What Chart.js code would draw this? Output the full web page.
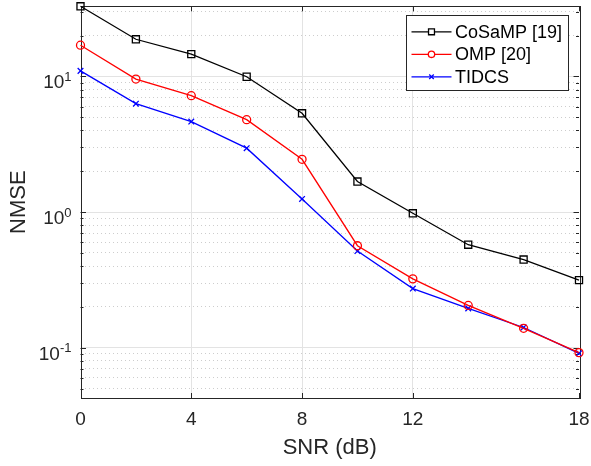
<!DOCTYPE html>
<html>
<head>
<meta charset="utf-8">
<script src="https://cdn.jsdelivr.net/npm/chart.js@4/dist/chart.umd.min.js"></script>
<style>
  html, body { margin: 0; padding: 0; background: #fff; }
  #wrap { width: 591px; height: 466px; }
</style>
</head>
<body>
<div id="wrap"><canvas id="c" width="591" height="466"></canvas></div>
<script>
// values
const snr    = [0, 2, 4, 6, 8, 10, 12, 14, 16, 18];
const cosamp = [32.9, 18.8, 14.6, 9.95, 5.35, 1.68, 0.98, 0.575, 0.447, 0.315];
const omp    = [17.0, 9.57, 7.21, 4.8, 2.45, 0.565, 0.322, 0.205, 0.139, 0.092];
const tidcs  = [11.0, 6.3, 4.65, 2.96, 1.25, 0.516, 0.273, 0.195, 0.141, 0.091];

const seriesNames = ['CoSaMP [19]', 'OMP [20]', 'TIDCS'];
const xTicks   = [0, 4, 8, 12, 18];
const yDecades = [0.1, 1, 10];
const yExps    = ['-1', '0', '1'];
const yMin = 0.0426, yMax = 32.9;

const FONT = '"Liberation Sans", Arial, Helvetica, sans-serif';
const AX = '#262626';

// major decade lines plus 2..9 minor lines
const yGrid = [];
for (const d of [0.01, 0.1, 1, 10]) {
  for (let m = 1; m <= 9; m++) {
    const v = +(m * d).toPrecision(3);
    if (v >= yMin && v <= yMax) yGrid.push({ value: v, major: m === 1 });
  }
}

const pts = arr => arr.map((v, i) => ({ x: snr[i], y: v }));

const matlabAxes = {
  id: 'matlabAxes',
  beforeDatasetsDraw(chart) {
    const { ctx, chartArea: a, scales } = chart;
    ctx.save();
    ctx.strokeStyle = AX;
    ctx.lineWidth = 1;
    ctx.beginPath();
    xTicks.forEach(v => {
      const x = Math.round(scales.x.getPixelForValue(v)) + 0.5;
      ctx.moveTo(x, a.bottom); ctx.lineTo(x, a.bottom - 5);
      ctx.moveTo(x, a.top); ctx.lineTo(x, a.top + 5);
    });
    scales.y.ticks.forEach(t => {
      const y = Math.round(scales.y.getPixelForValue(t.value)) + 0.5;
      const len = t.major ? 5.5 : 3;
      ctx.moveTo(a.left, y); ctx.lineTo(a.left + len, y);
      ctx.moveTo(a.right, y); ctx.lineTo(a.right - len, y);
    });
    ctx.stroke();
    ctx.strokeRect(Math.round(a.left) + 0.5, Math.round(a.top) + 0.5,
      Math.round(a.right - a.left), Math.round(a.bottom - a.top));
    ctx.restore();
  },
  afterDraw(chart) {
    const { ctx, scales } = chart;
    ctx.save();
    // y tick labels as 10^n
    ctx.fillStyle = AX;
    ctx.textBaseline = 'alphabetic';
    yDecades.forEach((v, i) => {
      const y = scales.y.getPixelForValue(v);
      ctx.font = '13px ' + FONT;
      ctx.textAlign = 'right';
      const right = 71.5;
      ctx.fillText(yExps[i], right, y + 4.5);
      const ew = ctx.measureText(yExps[i]).width;
      ctx.font = '19px ' + FONT;
      ctx.fillText('10', right - ew, y + 12);
    });
    // legend box
    const lx = 406.5, ly = 15.5, lw = 162, lh = 75;
    ctx.fillStyle = '#fff';
    ctx.fillRect(lx, ly, lw, lh);
    ctx.strokeStyle = AX;
    ctx.lineWidth = 1;
    ctx.strokeRect(lx, ly, lw, lh);
    const rows = [31.8, 54.3, 76.8];
    chart.data.datasets.forEach((ds, i) => {
      const y = rows[i];
      ctx.strokeStyle = ds.borderColor;
      ctx.lineWidth = ds.borderWidth;
      ctx.beginPath();
      ctx.moveTo(411.5, y); ctx.lineTo(451.5, y);
      ctx.stroke();
      ctx.fillStyle = '#fff';
      Chart.helpers.drawPoint(ctx, {
        pointStyle: ds.pointStyle, radius: ds.pointRadius - 0.8,
        rotation: 0, borderWidth: ds.pointBorderWidth
      }, 431.5, y);
      ctx.fillStyle = '#000';
      ctx.font = '18px ' + FONT;
      ctx.textAlign = 'left';
      ctx.textBaseline = 'middle';
      ctx.fillText(ds.label, 455, y + 1);
    });
    ctx.restore();
  }
};

const mk = (label, data, color, style, r) => ({
  label, data: pts(data),
  borderColor: color, borderWidth: 1.3,
  pointStyle: style, pointRadius: r, pointHoverRadius: r,
  pointBorderColor: color, pointBackgroundColor: 'rgba(0,0,0,0)',
  pointBorderWidth: 1.3, tension: 0, clip: false
});

new Chart(document.getElementById('c'), {
  type: 'line',
  data: {
    datasets: [
      mk(seriesNames[0], cosamp, '#000000', 'rect', 5),
      mk(seriesNames[1], omp, '#ff0000', 'circle', 4),
      mk(seriesNames[2], tidcs, '#0000ff', 'crossRot', 4)
    ]
  },
  options: {
    responsive: false,
    animation: false,
    events: [],
    layout: { padding: { top: 5, right: 12, left: 0, bottom: 0 } },
    plugins: { legend: { display: false }, tooltip: { enabled: false } },
    scales: {
      x: {
        type: 'linear', min: 0, max: 18,
        afterBuildTicks: s => { s.ticks = xTicks.map(v => ({ value: v })); },
        afterFit: s => { s.height = 68; s.paddingLeft = 0; s.paddingRight = 0; },
        grid: {
          drawTicks: false,
          color: c => (c.tick && (c.tick.value === 0 || c.tick.value === 18)) ? 'rgba(0,0,0,0)' : '#e3e3e3'
        },
        border: { display: false },
        ticks: {
          autoSkip: false, maxRotation: 0, padding: 10, color: AX,
          font: { family: FONT, size: 19 }
        },
        title: {
          display: true, text: 'SNR (dB)', color: AX,
          font: { family: FONT, size: 22 }, padding: { top: 0, bottom: 5 }
        }
      },
      y: {
        type: 'logarithmic', min: yMin, max: yMax,
        afterBuildTicks: s => { s.ticks = yGrid.map(t => ({ value: t.value, major: t.major })); },
        afterFit: s => { s.width = 80.5; s.paddingTop = 0; s.paddingBottom = 0; },
        grid: {
          drawTicks: false,
          color: c => (c.tick && c.tick.major) ? '#e3e3e3' : '#cdcdcd'
        },
        border: {
          display: false,
          dash: c => (c.tick && c.tick.major) ? [] : [1, 3]
        },
        ticks: { display: false },
        title: {
          display: true, text: 'NMSE', color: AX,
          font: { family: FONT, size: 22 }, padding: { top: 5.4, bottom: 0 }
        }
      }
    }
  },
  plugins: [matlabAxes]
});
</script>
</body>
</html>
